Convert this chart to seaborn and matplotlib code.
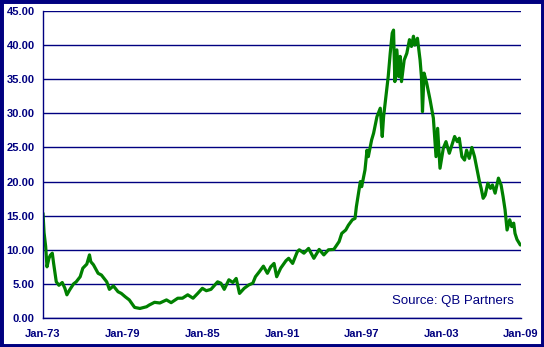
import matplotlib
matplotlib.use("Agg")
import matplotlib.pyplot as plt
import seaborn as sns
import pandas as pd
from matplotlib.patches import Rectangle

years = [1973.00, 1973.08, 1973.2, 1973.3, 1973.45, 1973.55, 1973.7, 1973.8, 1974.0, 1974.2,
         1974.45, 1974.65, 1974.8, 1975.0, 1975.3, 1975.5, 1975.8, 1976.0, 1976.3, 1976.5,
         1976.6, 1976.8, 1977.15, 1977.4, 1977.8, 1978.0, 1978.3, 1978.65, 1978.9, 1979.2,
         1979.5, 1979.9, 1980.3, 1980.8, 1981.0, 1981.4, 1981.8, 1982.3, 1982.65, 1983.15,
         1983.5, 1983.9, 1984.3, 1984.65, 1985.0, 1985.3, 1985.65, 1986.15, 1986.4, 1986.65,
         1987.0, 1987.3, 1987.55, 1987.8, 1988.15, 1988.5, 1988.8, 1989.0, 1989.3, 1989.6,
         1989.9, 1990.15, 1990.4, 1990.6, 1990.9, 1991.3, 1991.5, 1991.8, 1992.15, 1992.3,
         1992.65, 1993.0, 1993.4, 1993.8, 1994.15, 1994.5, 1994.9, 1995.3, 1995.5, 1995.8,
         1996.0, 1996.3, 1996.5, 1996.6, 1996.8, 1996.9, 1997.0, 1997.25, 1997.4, 1997.5,
         1997.75, 1997.9, 1998.15, 1998.4, 1998.55, 1998.65, 1998.8, 1999.0, 1999.15, 1999.3,
         1999.4, 1999.5, 1999.65, 1999.78, 1999.9, 2000.0, 2000.2, 2000.4, 2000.6, 2000.75,
         2000.9, 2001.0, 2001.2, 2001.4, 2001.5, 2001.58, 2001.7, 2001.9, 2002.15, 2002.4,
         2002.6, 2002.72, 2002.9, 2003.15, 2003.35, 2003.6, 2003.8, 2004.0, 2004.2, 2004.35,
         2004.55, 2004.75, 2004.9, 2005.1, 2005.3, 2005.5, 2005.65, 2005.85, 2006.0, 2006.15,
         2006.3, 2006.5, 2006.7, 2006.85, 2007.05, 2007.3, 2007.5, 2007.65, 2007.8, 2007.95,
         2008.15, 2008.3, 2008.45, 2008.55, 2008.7, 2008.95]
values = [15.35, 12.5, 10.5, 7.5, 8.75, 9.2, 9.5, 8.0, 5.3, 4.8,
          5.2, 4.35, 3.4, 4.1, 5.0, 5.3, 6.05, 7.3, 7.9, 9.25,
          8.25, 7.8, 6.55, 6.3, 5.3, 4.2, 4.7, 3.85, 3.6, 3.1,
          2.65, 1.55, 1.4, 1.65, 1.9, 2.3, 2.2, 2.65, 2.25, 2.9,
          2.9, 3.4, 2.9, 3.6, 4.35, 4.0, 4.2, 5.3, 5.1, 4.2,
          5.6, 5.2, 5.8, 3.6, 4.35, 4.85, 5.1, 6.05, 6.8, 7.6,
          6.55, 7.5, 8.0, 6.05, 7.3, 8.4, 8.75, 8.0, 9.7, 10.0,
          9.5, 10.2, 8.75, 10.05, 9.25, 10.0, 10.05, 11.2, 12.4, 12.9,
          13.6, 14.4, 14.6, 16.3, 18.8, 20.0, 19.25, 21.7, 24.6, 23.65,
          26.1, 27.1, 29.5, 30.75, 26.6, 29.5, 32.0, 35.4, 38.8, 41.75,
          42.2, 34.65, 39.3, 35.4, 38.35, 34.65, 37.8, 38.8, 40.8, 39.8,
          41.3, 40.0, 41.0, 37.8, 35.4, 30.25, 35.9, 34.4, 32.0, 29.3,
          23.65, 27.8, 21.95, 24.9, 25.85, 24.15, 25.4, 26.6, 25.85, 26.35,
          23.65, 23.15, 24.6, 23.4, 25.0, 23.65, 22.2, 20.2, 19.0, 17.55,
          18.0, 19.75, 19.0, 19.5, 18.3, 20.5, 19.5, 17.8, 15.85, 12.9,
          14.4, 13.4, 13.9, 12.4, 11.5, 10.7]

tick_years = [1973, 1979, 1985, 1991, 1997, 2003, 2009]
tick_labels = ["Jan-73", "Jan-79", "Jan-85", "Jan-91", "Jan-97", "Jan-03", "Jan-09"]
y_ticks = [0, 5, 10, 15, 20, 25, 30, 35, 40, 45]

sns.set_style("white")
plt.rcParams['font.family'] = ['Liberation Sans', 'DejaVu Sans']

navy = "#000080"
df = pd.DataFrame({"year": years, "value": values})

fig = plt.figure(figsize=(5.44, 3.47), dpi=100)
ax = fig.add_axes([43/544, 1 - 318/347, (521 - 43)/544, (318 - 11)/347])
sns.lineplot(data=df, x="year", y="value", ax=ax, color="#008000", linewidth=2.3)

ax.set_xlim(1973, 2009)
ax.set_ylim(0, 45)
ax.set_xticks(tick_years)
ax.set_xticklabels(tick_labels)
ax.set_yticks(y_ticks)
ax.set_yticklabels([f"{v:.2f}" for v in y_ticks])
ax.set_xlabel("")
ax.set_ylabel("")
for lab in ax.get_xticklabels() + ax.get_yticklabels():
    lab.set_fontweight("bold")
    lab.set_fontsize(8)
    lab.set_color(navy)
ax.tick_params(axis="both", direction="out", length=3, width=1, color=navy, pad=3)
ax.tick_params(axis="x", pad=5)
ax.yaxis.grid(True, color=navy, linewidth=1)
ax.set_axisbelow(True)
for s in ["top", "right"]:
    ax.spines[s].set_visible(False)
for s in ["left", "bottom"]:
    ax.spines[s].set_color(navy)
    ax.spines[s].set_linewidth(1)
ax.text(0.985, 0.055, "Source: QB Partners", transform=ax.transAxes, ha="right", va="center",
        fontsize=9.5, color=navy)

fig.patches.append(Rectangle((0, 0), 1, 1, transform=fig.transFigure, fill=False,
                             edgecolor=navy, linewidth=5, zorder=10))
fig.savefig("out.png", dpi=100)
